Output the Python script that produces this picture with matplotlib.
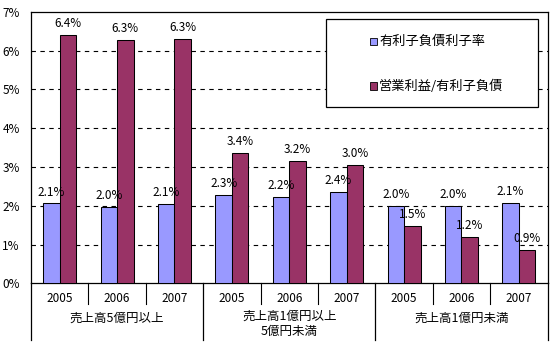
import matplotlib
import numpy as np
from matplotlib import pyplot as plt
from matplotlib.patches import Rectangle

matplotlib.use("Agg")

plt.rcParams["font.family"] = ["Noto Sans CJK JP", "DejaVu Sans"]

# データ
years = ["2005", "2006", "2007"] * 3
groups = ["売上高5億円以上", "売上高1億円以上\n5億円未満", "売上高1億円未満"]
series_names = ["有利子負債利子率", "営業利益/有利子負債"]
interest_rate = [2.06, 1.96, 2.04, 2.28, 2.23, 2.36, 2.00, 2.00, 2.08]
profit_ratio = [6.41, 6.27, 6.30, 3.36, 3.16, 3.04, 1.48, 1.20, 0.87]
interest_text = ["2.1%", "2.0%", "2.1%", "2.3%", "2.2%", "2.4%", "2.0%", "2.0%", "2.1%"]
profit_text = ["6.4%", "6.3%", "6.3%", "3.4%", "3.2%", "3.0%", "1.5%", "1.2%", "0.9%"]

colors = ["#9999FF", "#993366"]

fig = plt.figure(figsize=(5.5, 3.42), dpi=100)
ax = fig.add_axes([31 / 550, 1 - 283.3 / 342, 516.5 / 550, 271.6 / 342])

x = np.arange(len(years))
w = 0.2875
b1 = ax.bar(x - w / 2, interest_rate, w, color=colors[0], edgecolor="black", linewidth=0.75, zorder=3)
b2 = ax.bar(x + w / 2, profit_ratio, w, color=colors[1], edgecolor="black", linewidth=0.75, zorder=3)

for bars, texts in [(b1, interest_text), (b2, profit_text)]:
    for bar, t in zip(bars, texts):
        ax.annotate(
            t,
            (bar.get_x() + bar.get_width() / 2, bar.get_height()),
            xytext=(0, 3.5),
            textcoords="offset points",
            ha="center",
            va="bottom",
            fontsize=8.5,
            zorder=4,
        )

ax.set_xlim(-0.5, len(years) - 0.5)
ax.set_ylim(0, 7)
ax.set_yticks(range(8))
ax.set_yticklabels([f"{i}%" for i in range(8)], fontsize=8.5)
ax.tick_params(axis="y", length=0, pad=8)
ax.set_xticks([])
for s in ax.spines.values():
    s.set_linewidth(0.9)

for yv in range(1, 7):
    ax.axhline(yv, color="black", lw=0.8, ls=(0, (4, 4)), zorder=1)

# 下部の区切り線とラベル
tr = ax.get_xaxis_transform()
for xb in [0.5, 1.5, 3.5, 4.5, 6.5, 7.5]:
    ax.plot([xb, xb], [0, -0.078], color="black", lw=0.8, transform=tr, clip_on=False)
for xb in [-0.5, 2.5, 5.5, 8.5]:
    ax.plot([xb, xb], [0, -0.21], color="black", lw=0.9, transform=tr, clip_on=False)

for xi, yr in zip(x, years):
    ax.text(xi, -0.055, yr, transform=tr, ha="center", va="center", fontsize=8.5)
for gi, g in enumerate(groups):
    yy = -0.15 if "\n" in g else -0.128
    ax.text(gi * 3 + 1, yy, g, transform=tr, ha="center", va="center",
            fontsize=9, linespacing=1.2)

# 凡例
fig.patches.append(Rectangle((326 / 550, 1 - 107 / 342), 212 / 550, 88 / 342,
                             transform=fig.transFigure, facecolor="white",
                             edgecolor="black", linewidth=0.9, zorder=5))
for name, c, yc in zip(series_names, colors, [41.7, 86]):
    fig.patches.append(Rectangle((369.5 / 550, 1 - (yc + 3.5) / 342), 7 / 550, 7 / 342,
                                 transform=fig.transFigure, facecolor=c,
                                 edgecolor="black", linewidth=0.6, zorder=6))
    fig.text(379 / 550, 1 - yc / 342, name, ha="left", va="center", fontsize=9.5, zorder=6)

fig.savefig("out.png", dpi=100)
